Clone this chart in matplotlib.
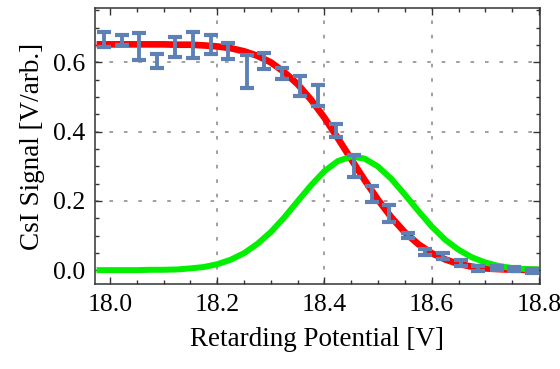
import numpy as np
import matplotlib
matplotlib.use("Agg")
import matplotlib.pyplot as plt
from matplotlib.ticker import MultipleLocator

plt.rcParams['font.family'] = ['Liberation Serif', 'DejaVu Serif']

# measured points (retarding potential, signal, error)
volts = [17.989, 18.022, 18.055, 18.088, 18.121, 18.155, 18.188, 18.221, 18.255,
         18.288, 18.321, 18.355, 18.388, 18.421, 18.455, 18.488, 18.521, 18.555,
         18.588, 18.621, 18.654, 18.687, 18.721, 18.754, 18.787]
signal = [0.666, 0.665, 0.646, 0.603, 0.645, 0.651, 0.652, 0.634, 0.574,
          0.604, 0.568, 0.532, 0.505, 0.404, 0.301, 0.221, 0.164, 0.101,
          0.052, 0.040, 0.020, 0.005, 0.005, 0.003, -0.003]
err = [0.023, 0.015, 0.040, 0.020, 0.029, 0.037, 0.027, 0.023, 0.047,
       0.022, 0.015, 0.028, 0.030, 0.019, 0.032, 0.023, 0.024, 0.007,
       0.009, 0.009, 0.009, 0.008, 0.006, 0.006, 0.006]

# fit curve (red) and its derivative (green)
curve_x = [17.975, 18.0, 18.025, 18.05, 18.075, 18.1, 18.125, 18.15, 18.175, 18.2,
           18.225, 18.25, 18.275, 18.3, 18.325, 18.35, 18.375, 18.4, 18.425, 18.45,
           18.475, 18.5, 18.525, 18.55, 18.575, 18.6, 18.625, 18.65, 18.675, 18.7,
           18.725, 18.75, 18.775, 18.8]
fit_y = [0.652, 0.652, 0.652, 0.652, 0.652, 0.652, 0.651, 0.651, 0.649, 0.646,
         0.641, 0.632, 0.619, 0.600, 0.572, 0.537, 0.492, 0.440, 0.381, 0.320,
         0.260, 0.203, 0.152, 0.109, 0.075, 0.049, 0.031, 0.018, 0.010, 0.005,
         0.003, 0.001, 0.001, 0.000]
deriv_y = [0.000, 0.000, 0.000, 0.000, 0.001, 0.001, 0.002, 0.005, 0.009, 0.017,
           0.030, 0.049, 0.076, 0.110, 0.152, 0.199, 0.245, 0.286, 0.315, 0.328,
           0.322, 0.299, 0.263, 0.218, 0.171, 0.126, 0.088, 0.059, 0.037, 0.022,
           0.012, 0.006, 0.003, 0.002]

fig = plt.figure(figsize=(5.6, 3.69), dpi=100)
ax = fig.add_axes([0.1696, 0.2304, 0.7947, 0.7479])

# dashed grid at the inner ticks only
for gx in [18.2, 18.4, 18.6]:
    ax.axvline(gx, color='#999999', lw=1.3, ls=(0, (2.0, 6.0)), zorder=0)
for gy in [0.2, 0.4, 0.6]:
    ax.axhline(gy, color='#999999', lw=1.3, ls=(0, (2.0, 6.0)), zorder=0)

ax.plot(curve_x, fit_y, color='#ff0000', lw=4.8, solid_capstyle='butt', zorder=2)
ax.plot(curve_x, deriv_y, color='#00f000', lw=4.3, solid_capstyle='butt', zorder=3)
ax.errorbar(volts, signal, yerr=err, fmt='none', ecolor='#5e81b5', elinewidth=2.8,
            capsize=4.8, capthick=3.0, zorder=4)

ax.set_xlim(17.972, 18.802)
ax.set_ylim(-0.04, 0.757)
ax.xaxis.set_major_locator(MultipleLocator(0.2))
ax.xaxis.set_minor_locator(MultipleLocator(0.05))
ax.yaxis.set_major_locator(MultipleLocator(0.2))
ax.yaxis.set_minor_locator(MultipleLocator(0.05))
ax.xaxis.set_major_formatter(plt.FormatStrFormatter('%.1f'))
ax.yaxis.set_major_formatter(plt.FormatStrFormatter('%.1f'))
ax.tick_params(which='both', direction='in', top=True, right=True, labelsize=18.5,
               color='#333333', width=1.0)
ax.tick_params(which='major', length=5, pad=7)
ax.tick_params(which='minor', length=3)
for sp in ax.spines.values():
    sp.set_color('#333333')
    sp.set_linewidth(1.1)

ax.set_xlabel('Retarding Potential [V]', fontsize=19.5, labelpad=8)
ax.set_ylabel('CsI Signal [V/arb.]', fontsize=19.5, labelpad=6)

fig.savefig('out.png', dpi=100)
